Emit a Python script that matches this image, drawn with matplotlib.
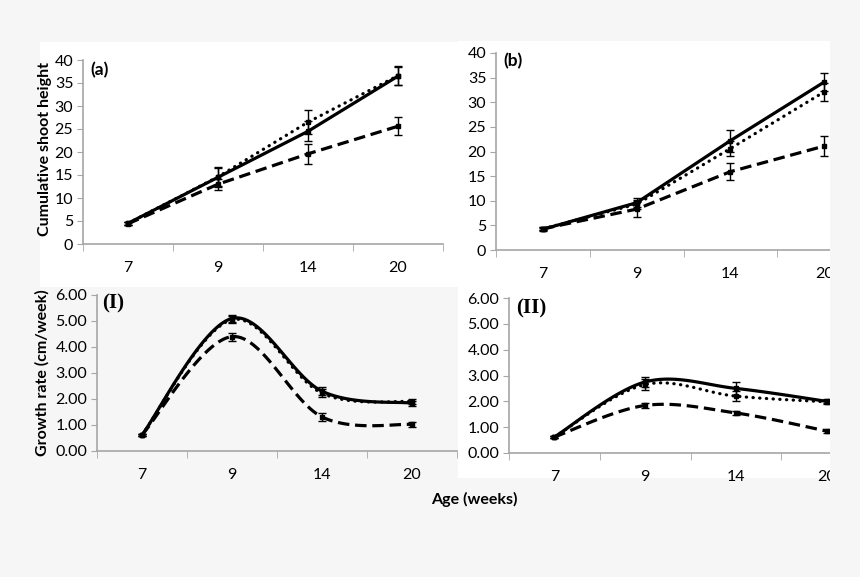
import numpy as np
import matplotlib
matplotlib.use("Agg")
import matplotlib.pyplot as plt
from matplotlib.patches import Rectangle

plt.rcParams['font.family'] = ['Lato', 'DejaVu Sans']

ages = ['7', '9', '14', '20']

# cumulative shoot height, panel (a)
a_solid = [4.5, 14.5, 24.5, 36.5]
a_dot = [4.5, 14.6, 26.5, 36.6]
a_dash = [4.4, 13.0, 19.6, 25.6]
a_solid_err = [0.3, 2.2, 2.2, 2.0]
a_dot_err = [0.3, 2.0, 2.6, 2.1]
a_dash_err = [0.3, 1.2, 2.1, 2.0]

# cumulative shoot height, panel (b)
b_solid = [4.2, 9.6, 22.2, 34.1]
b_dot = [4.3, 9.3, 20.6, 32.1]
b_dash = [4.3, 8.3, 15.9, 21.1]
b_solid_err = [0.3, 0.9, 2.2, 1.8]
b_dot_err = [0.3, 0.9, 1.5, 1.9]
b_dash_err = [0.3, 1.7, 1.7, 2.0]

# growth rate, panel (I)
g1_solid = [0.62, 5.10, 2.30, 1.84]
g1_dot = [0.62, 5.05, 2.22, 1.90]
g1_dash = [0.62, 4.40, 1.31, 1.02]
g1_solid_err = [0.03, 0.13, 0.15, 0.10]
g1_dot_err = [0.03, 0.13, 0.15, 0.10]
g1_dash_err = [0.03, 0.15, 0.15, 0.08]

# growth rate, panel (II)
g2_solid = [0.62, 2.75, 2.50, 2.00]
g2_dot = [0.62, 2.65, 2.20, 1.98]
g2_dash = [0.62, 1.84, 1.55, 0.85]
g2_solid_err = [0.03, 0.20, 0.25, 0.08]
g2_dot_err = [0.03, 0.20, 0.20, 0.08]
g2_dash_err = [0.03, 0.08, 0.08, 0.08]

W, H = 860, 577
bg = '#f6f6f6'
axcol = '#a6a6a6'
fig = plt.figure(figsize=(W / 100, H / 100), dpi=100, facecolor=bg)


def px(l, r, top, bot):
    return [l / W, 1 - bot / H, (r - l) / W, (bot - top) / H]


def smooth(y, n=30):
    # excel-style smoothed line (bezier through the points)
    x = np.arange(len(y), dtype=float)
    p = np.column_stack([x, np.asarray(y, float)])
    pts = []
    for i in range(len(p) - 1):
        p0 = p[max(i - 1, 0)]
        p1, p2 = p[i], p[i + 1]
        p3 = p[min(i + 2, len(p) - 1)]
        c1 = p1 + (p2 - p0) / 6
        c2 = p2 - (p3 - p1) / 6
        t = np.linspace(0, 1, n)[:, None]
        seg = (1 - t)**3 * p1 + 3 * (1 - t)**2 * t * c1 + 3 * (1 - t) * t**2 * c2 + t**3 * p2
        pts.append(seg if i == 0 else seg[1:])
    pts = np.vstack(pts)
    return pts[:, 0], pts[:, 1]


def panel(rect, series, errs, ymax, ystep, fmt, smooth_lines):
    ax = fig.add_axes(rect)
    ax.set_facecolor('none')
    x = np.arange(len(ages))
    styles = [dict(ls=(0, (0.1, 2.0)), dash_capstyle='round'),
              dict(ls=(0, (3.6, 1.8))),
              dict(ls='-')]
    for ys, er, st in zip(series, errs, styles):
        if smooth_lines:
            xs, yy = smooth(ys)
        else:
            xs, yy = x, ys
        ax.plot(xs, yy, color='black', lw=2.3, **st)
        ax.plot(x, ys, ls='none', marker='s', ms=3, color='black')
        ax.errorbar(x, ys, yerr=er, fmt='none', ecolor='black', elinewidth=1.0,
                    capsize=3, capthick=1.0)
    ax.set_xlim(-0.5, 3.5)
    ax.set_ylim(0, ymax)
    ax.set_yticks(np.arange(0, ymax + 0.01, ystep))
    ax.yaxis.set_major_formatter(matplotlib.ticker.FormatStrFormatter(fmt))
    ax.set_xticks(x)
    ax.set_xticklabels(ages)
    ax.set_xticks(np.arange(-0.5, 3.6, 1), minor=True)
    ax.tick_params(axis='x', which='major', length=0, pad=12, labelsize=11.5)
    ax.tick_params(axis='x', which='minor', length=5, color=axcol)
    ax.tick_params(axis='y', length=4, color=axcol, pad=3, labelsize=11.5)
    for s in ['top', 'right']:
        ax.spines[s].set_visible(False)
    for s in ['left', 'bottom']:
        ax.spines[s].set_color(axcol)
        ax.spines[s].set_linewidth(1.2)
    return ax


# white panel backgrounds
for l, r, t, b in [(40, 458, 42, 287), (458, 830, 41, 288), (458, 830, 288, 478)]:
    fig.patches.append(Rectangle((l / W, 1 - b / H), (r - l) / W, (b - t) / H,
                                 transform=fig.transFigure, facecolor='white',
                                 edgecolor='none', zorder=-1))

ax_a = panel(px(83, 443, 60, 244), [a_dot, a_dash, a_solid],
             [a_dot_err, a_dash_err, a_solid_err], 40, 5, '%d', False)
ax_b = panel(px(496, 871, 53, 250), [b_dot, b_dash, b_solid],
             [b_dot_err, b_dash_err, b_solid_err], 40, 5, '%d', False)
ax_1 = panel(px(97, 457, 295, 451), [g1_dot, g1_dash, g1_solid],
             [g1_dot_err, g1_dash_err, g1_solid_err], 6, 1, '%.2f', True)
ax_2 = panel(px(509, 872, 298, 453), [g2_dot, g2_dash, g2_solid],
             [g2_dot_err, g2_dash_err, g2_solid_err], 6, 1, '%.2f', True)

ax_a.text(0.02, 0.99, '(a)', transform=ax_a.transAxes, fontsize=12.5,
          fontweight='bold', va='top')
ax_b.text(0.02, 1.0, '(b)', transform=ax_b.transAxes, fontsize=12.5,
          fontweight='bold', va='top')
ax_1.text(0.015, 1.01, '(I)', transform=ax_1.transAxes, fontsize=15,
          fontweight='bold', va='top', family='Liberation Serif')
ax_2.text(0.02, 1.0, '(II)', transform=ax_2.transAxes, fontsize=15,
          fontweight='bold', va='top', family='Liberation Serif')

fig.text(45 / W, 1 - 149 / H, 'Cumulative shoot height', rotation=90,
         ha='center', va='center', fontsize=11.5, fontweight='bold')
fig.text(42 / W, 1 - 373 / H, 'Growth rate (cm/week)', rotation=90,
         ha='center', va='center', fontsize=11.5, fontweight='bold')
fig.text(474 / W, 1 - 499 / H, 'Age (weeks)', ha='center', va='center',
         fontsize=11.5, fontweight='bold')

# right side of the image is cut off
fig.patches.append(Rectangle((830 / W, 0), 30 / W, 1, transform=fig.transFigure,
                             facecolor=bg, edgecolor='none', zorder=10))

fig.savefig('out.png', dpi=100, facecolor=bg)
